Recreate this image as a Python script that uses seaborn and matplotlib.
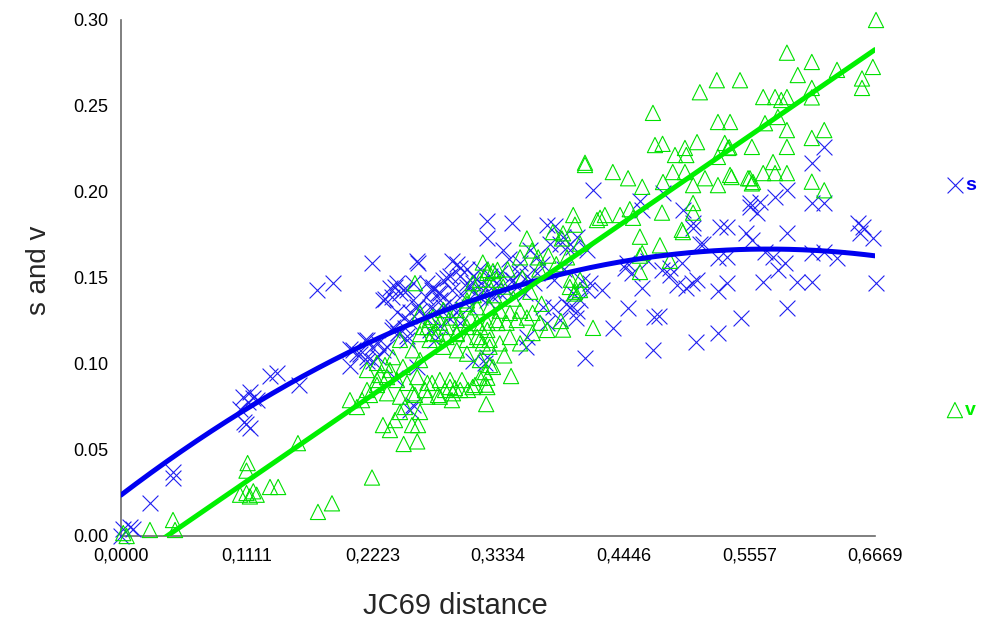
import numpy as np
import pandas as pd
import matplotlib
matplotlib.use("Agg")
import matplotlib.pyplot as plt
import seaborn as sns

# Synonymous (s) and non-synonymous (v) divergence against JC69 distance
s_points = [
    (0.000, 0.000), (0.002, 0.004), (0.008, 0.005), (0.011, 0.004),
    (0.026, 0.019), (0.046, 0.037), (0.046, 0.034),
    (0.138, 0.095), (0.132, 0.093), (0.157, 0.088), (0.114, 0.084), (0.108, 0.081), (0.117, 0.080),
    (0.112, 0.078), (0.105, 0.074), (0.120, 0.079), (0.111, 0.065), (0.114, 0.063), (0.109, 0.066),
    (0.173, 0.143), (0.1875, 0.147), (0.222, 0.159), (0.232, 0.137), (0.240, 0.139), (0.244, 0.147),
    (0.249, 0.143), (0.238, 0.144), (0.244, 0.130), (0.250, 0.127),
    (0.2025, 0.109), (0.209, 0.106), (0.2175, 0.104), (0.223, 0.102), (0.2025, 0.099), (0.218, 0.114),
    (0.227, 0.112), (0.235, 0.110), (0.240, 0.120), (0.245, 0.118), (0.251, 0.121), (0.253, 0.114),
    (0.242, 0.092), (0.256, 0.073), (0.258, 0.076),
    (0.263, 0.159), (0.293, 0.160), (0.297, 0.158), (0.306, 0.155), (0.2335, 0.138), (0.242, 0.145),
    (0.247, 0.141), (0.253, 0.143), (0.258, 0.137), (0.262, 0.133), (0.271, 0.147), (0.275, 0.143),
    (0.280, 0.141), (0.282, 0.137), (0.285, 0.149), (0.291, 0.151), (0.300, 0.151), (0.306, 0.145),
    (0.311, 0.147), (0.3175, 0.139), (0.324, 0.137), (0.329, 0.143), (0.2556, 0.130), (0.264, 0.131),
    (0.273, 0.133), (0.2406, 0.1215), (0.245, 0.118), (0.253, 0.116), (0.216, 0.114), (0.222, 0.110),
    (0.205, 0.108), (0.211, 0.106), (0.2176, 0.102), (0.227, 0.104), (0.232, 0.108), (0.273, 0.120),
    (0.282, 0.122), (0.291, 0.126), (0.300, 0.124), (0.278, 0.114), (0.311, 0.102), (0.324, 0.104),
    (0.262, 0.098),
    (0.324, 0.183), (0.324, 0.173), (0.346, 0.182), (0.377, 0.181), (0.384, 0.180), (0.4175, 0.201),
    (0.262, 0.160), (0.338, 0.166), (0.300, 0.156), (0.3175, 0.155), (0.326, 0.151), (0.335, 0.153),
    (0.347, 0.149), (0.353, 0.159), (0.362, 0.166), (0.368, 0.162), (0.3795, 0.170), (0.388, 0.170),
    (0.400, 0.168), (0.258, 0.147), (0.270, 0.139), (0.276, 0.145), (0.282, 0.141), (0.285, 0.133),
    (0.288, 0.150), (0.293, 0.143), (0.306, 0.147), (0.311, 0.151), (0.320, 0.143), (0.329, 0.139),
    (0.332, 0.147), (0.341, 0.143), (0.350, 0.145), (0.359, 0.151), (0.368, 0.153), (0.373, 0.133),
    (0.382, 0.133), (0.388, 0.1256), (0.394, 0.135), (0.403, 0.131), (0.406, 0.137), (0.400, 0.141),
    (0.412, 0.143), (0.377, 0.124), (0.359, 0.1157), (0.415, 0.147),
    (0.255, 0.125), (0.268, 0.128), (0.279, 0.131), (0.290, 0.136), (0.302, 0.140), (0.313, 0.141),
    (0.318, 0.147), (0.335, 0.141), (0.344, 0.150), (0.352, 0.153), (0.365, 0.147), (0.372, 0.158),
    (0.383, 0.149), (0.392, 0.155), (0.296, 0.130), (0.308, 0.133), (0.343, 0.161), (0.357, 0.141),
    (0.4485, 0.1326), (0.435, 0.121), (0.410, 0.1035), (0.4714, 0.1273), (0.476, 0.128), (0.4705, 0.108),
    (0.5086, 0.113), (0.528, 0.118), (0.548, 0.127), (0.589, 0.1326), (0.4024, 0.127), (0.397, 0.133),
    (0.358, 0.110), (0.322, 0.1006),
    (0.668, 0.147), (0.408, 0.148), (0.425, 0.143), (0.4458, 0.156), (0.452, 0.153), (0.461, 0.144),
    (0.4785, 0.1547), (0.486, 0.152), (0.4918, 0.146), (0.4962, 0.159), (0.500, 0.144), (0.505, 0.147),
    (0.5095, 0.149), (0.512, 0.170), (0.528, 0.1424), (0.536, 0.147), (0.528, 0.1616), (0.536, 0.162),
    (0.558, 0.172), (0.568, 0.1477), (0.5696, 0.165), (0.577, 0.162), (0.581, 0.1547), (0.587, 0.159),
    (0.598, 0.1477), (0.611, 0.1477), (0.611, 0.1645), (0.633, 0.1616), (0.589, 0.176), (0.654, 0.176),
    (0.665, 0.173),
    (0.459, 0.195), (0.479, 0.1994), (0.461, 0.1895), (0.497, 0.1895), (0.506, 0.182), (0.506, 0.179),
    (0.515, 0.170), (0.530, 0.1797), (0.536, 0.1797), (0.556, 0.191), (0.553, 0.176), (0.5625, 0.188),
    (0.4475, 0.1587), (0.466, 0.160), (0.4856, 0.156), (0.4033, 0.174), (0.3945, 0.168), (0.412, 0.166),
    (0.391, 0.174),
    (0.622, 0.2262), (0.611, 0.217), (0.589, 0.201), (0.5785, 0.197), (0.5563, 0.1936), (0.565, 0.194),
    (0.611, 0.1936), (0.622, 0.1936), (0.6563, 0.1797), (0.652, 0.182), (0.622, 0.165),
]

v_points = [
    (0.002, 0.0017), (0.005, 0.000), (0.0256, 0.0035), (0.046, 0.0093), (0.0478, 0.0035),
    (0.1565, 0.054), (0.112, 0.0424), (0.111, 0.038), (0.1318, 0.0285), (0.139, 0.0285), (0.1053, 0.024),
    (0.111, 0.025), (0.117, 0.026), (0.114, 0.023), (0.120, 0.024), (0.1742, 0.014), (0.1866, 0.019),
    (0.222, 0.034),
    (0.2025, 0.079), (0.2087, 0.075), (0.2132, 0.079), (0.2202, 0.082), (0.2264, 0.0878), (0.2291, 0.0936),
    (0.2335, 0.0994), (0.2379, 0.0965), (0.2317, 0.0645), (0.2379, 0.0616), (0.2423, 0.0674), (0.2468, 0.0721),
    (0.2512, 0.075), (0.2574, 0.0645), (0.2627, 0.0645), (0.2645, 0.0721), (0.260, 0.082), (0.2689, 0.0849),
    (0.2751, 0.089), (0.2804, 0.082), (0.2866, 0.0849), (0.291, 0.0907), (0.2954, 0.086), (0.3016, 0.0907),
    (0.3069, 0.0849), (0.3131, 0.0878), (0.3175, 0.0919), (0.322, 0.0953), (0.3264, 0.0994), (0.3228, 0.088),
    (0.323, 0.0767), (0.2927, 0.079), (0.262, 0.055), (0.250, 0.0535), (0.339, 0.105), (0.345, 0.093),
    (0.4175, 0.121),
    (0.260, 0.147), (0.320, 0.159), (0.324, 0.153), (0.329, 0.154), (0.311, 0.147), (0.3175, 0.149),
    (0.326, 0.145), (0.332, 0.149), (0.306, 0.135), (0.297, 0.1314), (0.285, 0.1314), (0.276, 0.1273),
    (0.271, 0.1215), (0.2645, 0.1174), (0.280, 0.1174), (0.288, 0.1215), (0.297, 0.1174), (0.306, 0.1215),
    (0.315, 0.1238), (0.324, 0.1198), (0.333, 0.1238), (0.273, 0.114), (0.285, 0.110), (0.297, 0.108),
    (0.306, 0.106), (0.3175, 0.114), (0.326, 0.110), (0.3175, 0.1023), (0.329, 0.0983), (0.324, 0.092),
    (0.2468, 0.114), (0.258, 0.108), (0.2645, 0.1023), (0.2406, 0.104), (0.2494, 0.0983), (0.2264, 0.1006),
    (0.2176, 0.0965), (0.2264, 0.0907), (0.2353, 0.0924), (0.2441, 0.0907), (0.253, 0.089), (0.262, 0.0924),
    (0.271, 0.089), (0.282, 0.0907), (0.291, 0.0866), (0.300, 0.0849), (0.311, 0.0866), (0.2176, 0.0849),
    (0.2353, 0.083), (0.2468, 0.081), (0.258, 0.083), (0.271, 0.081), (0.282, 0.081), (0.2936, 0.083),
    (0.324, 0.0866),
    (0.4104, 0.2157), (0.400, 0.1866), (0.4015, 0.181), (0.421, 0.1837), (0.382, 0.1767), (0.390, 0.173),
    (0.359, 0.173), (0.3635, 0.166), (0.369, 0.162), (0.353, 0.162), (0.3246, 0.1547), (0.333, 0.1547),
    (0.397, 0.1448), (0.406, 0.143), (0.401, 0.141), (0.406, 0.149), (0.306, 0.137), (0.315, 0.133),
    (0.326, 0.133), (0.335, 0.131), (0.344, 0.1297), (0.353, 0.131), (0.359, 0.127), (0.364, 0.1297),
    (0.3706, 0.124), (0.350, 0.1256), (0.341, 0.124), (0.332, 0.1256), (0.324, 0.124), (0.3175, 0.1215),
    (0.309, 0.127), (0.300, 0.1256), (0.291, 0.127), (0.282, 0.124), (0.273, 0.1256), (0.2645, 0.1297),
    (0.267, 0.1215), (0.276, 0.118), (0.288, 0.1157), (0.297, 0.118), (0.306, 0.114), (0.315, 0.1157),
    (0.326, 0.114), (0.335, 0.112), (0.344, 0.1157), (0.353, 0.112), (0.364, 0.118), (0.377, 0.1198),
    (0.391, 0.120), (0.320, 0.112),
    (0.330, 0.140), (0.338, 0.145), (0.347, 0.138), (0.355, 0.150), (0.362, 0.142), (0.370, 0.155),
    (0.378, 0.163), (0.385, 0.158), (0.342, 0.155), (0.372, 0.135), (0.312, 0.140),
    (0.459, 0.174), (0.4767, 0.169), (0.459, 0.163), (0.4855, 0.160), (0.459, 0.1535), (0.497, 0.1767),
    (0.398, 0.149), (0.389, 0.125),
    (0.4705, 0.246), (0.528, 0.2407), (0.5387, 0.2407), (0.4104, 0.217), (0.435, 0.2116), (0.4485, 0.208),
    (0.4723, 0.2273), (0.479, 0.228), (0.490, 0.2215), (0.4988, 0.2256), (0.500, 0.2215), (0.5095, 0.229),
    (0.537, 0.2256), (0.558, 0.2262), (0.461, 0.203), (0.4794, 0.2058), (0.488, 0.2116), (0.4988, 0.2116),
    (0.506, 0.204), (0.5165, 0.208), (0.528, 0.204), (0.540, 0.2087), (0.5546, 0.208), (0.559, 0.2058),
    (0.4237, 0.185), (0.428, 0.1866), (0.4414, 0.1866), (0.450, 0.190), (0.4529, 0.185), (0.4785, 0.188),
    (0.506, 0.1936), (0.506, 0.188), (0.496, 0.178), (0.461, 0.1645), (0.391, 0.176), (0.406, 0.170),
    (0.3945, 0.162), (0.4015, 0.142),
    (0.6678, 0.300), (0.589, 0.281), (0.611, 0.2756), (0.5986, 0.268), (0.6333, 0.271), (0.665, 0.2727),
    (0.6554, 0.266), (0.6554, 0.2605), (0.611, 0.2605), (0.611, 0.255), (0.527, 0.265), (0.5475, 0.265),
    (0.568, 0.2552), (0.5785, 0.2552), (0.589, 0.2552), (0.584, 0.2535), (0.512, 0.258), (0.5696, 0.240),
    (0.581, 0.2436), (0.589, 0.236), (0.611, 0.2314), (0.622, 0.236), (0.534, 0.2285), (0.538, 0.226),
    (0.589, 0.2262), (0.528, 0.2204), (0.5767, 0.2174), (0.5387, 0.2099), (0.5563, 0.208), (0.568, 0.211),
    (0.5785, 0.211), (0.589, 0.211), (0.611, 0.206), (0.622, 0.201), (0.558, 0.205),
]

# Fitted trend curves, coefficients from the constant term upwards
s_fit_coef = [0.0238, 0.500, -0.437]   # quadratic
v_fit_coef = [-0.0184, 0.4516]         # linear
fit_range = [0.0, 0.6669]

x_ticks = [0.0, 0.11115, 0.2223, 0.33345, 0.4446, 0.55575, 0.6669]
x_tick_labels = ["0,0000", "0,1111", "0,2223", "0,3334", "0,4446", "0,5557", "0,6669"]
y_ticks = [0.00, 0.05, 0.10, 0.15, 0.20, 0.25, 0.30]
y_tick_labels = ["0.00", "0.05", "0.10", "0.15", "0.20", "0.25", "0.30"]

s_df = pd.DataFrame(s_points, columns=["dist", "val"])
v_df = pd.DataFrame(v_points, columns=["dist", "val"])

grid = np.linspace(fit_range[0], fit_range[1], 300)
fit_df = pd.DataFrame({
    "dist": grid,
    "s": np.polynomial.polynomial.polyval(grid, s_fit_coef),
    "v": np.polynomial.polynomial.polyval(grid, v_fit_coef),
})

BLUE = "#0000F0"
BLUE_MK = "#2020F0"
GREEN = "#00F000"
GREEN_MK = "#00E000"

sns.set_style("white")
plt.rcParams["font.family"] = ["Liberation Sans", "DejaVu Sans"]

W, H = 981, 625
fig = plt.figure(figsize=(W / 100, H / 100), dpi=100)
ax = fig.add_axes([121 / W, (H - 536) / H, 754 / W, 516 / H])

sns.scatterplot(data=s_df, x="dist", y="val", ax=ax, marker="x", s=130,
                color=BLUE_MK, linewidth=0.8, clip_on=False, zorder=3)
sns.scatterplot(data=v_df, x="dist", y="val", ax=ax, marker="^", s=120,
                facecolor="none", edgecolor=GREEN_MK, color=GREEN_MK,
                linewidth=0.8, clip_on=False, zorder=3)

sns.lineplot(data=fit_df, x="dist", y="s", ax=ax, color=BLUE, lw=3.6, zorder=4)
sns.lineplot(data=fit_df, x="dist", y="v", ax=ax, color=GREEN, lw=3.6, zorder=4)

ax.set_xlim(0, 0.6669)
ax.set_ylim(0, 0.30)

for side in ["top", "right"]:
    ax.spines[side].set_visible(False)
for side in ["left", "bottom"]:
    ax.spines[side].set_color("#6a6a6a")
    ax.spines[side].set_linewidth(1.2)

ax.set_xticks(x_ticks)
ax.set_xticklabels(x_tick_labels)
ax.set_yticks(y_ticks)
ax.set_yticklabels(y_tick_labels)
ax.tick_params(axis="both", direction="in", length=8, width=1.0, color="#333333",
               labelsize=13, labelcolor="black")
ax.tick_params(axis="y", pad=9)
ax.tick_params(axis="x", pad=8)

ax.set_xlabel("JC69 distance", fontsize=21)
ax.set_ylabel("s and v", fontsize=20)
ax.xaxis.set_label_coords(0.443, -0.108)
ax.yaxis.set_label_coords(-0.091, 0.515)

# Series key at the right-hand side
ax.scatter([1.106], [0.680], transform=ax.transAxes, marker="x", s=130,
           color=BLUE_MK, linewidths=0.8, clip_on=False)
ax.text(1.1195, 0.680, "s", transform=ax.transAxes, color=BLUE, fontsize=14,
        fontweight="bold", va="center", ha="left")
ax.scatter([1.106], [0.244], transform=ax.transAxes, marker="^", s=120,
           facecolor="none", edgecolors=GREEN_MK, linewidths=0.8, clip_on=False)
ax.text(1.1195, 0.244, "v", transform=ax.transAxes, color=GREEN, fontsize=14,
        fontweight="bold", va="center", ha="left")

fig.savefig("out.png", dpi=100)
